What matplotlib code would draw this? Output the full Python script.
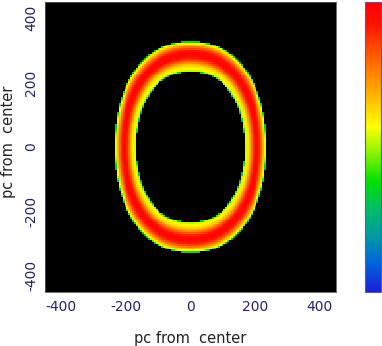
import numpy as np
import matplotlib
matplotlib.use("Agg")
import matplotlib.pyplot as plt
from matplotlib.colors import LinearSegmentedColormap

# ---- data ----
tick_values = [-400, -200, 0, 200, 400]
axis_limits = [-450, 450]
x_label = "pc from  center"
y_label = "pc from  center"

# ring centre-line semi-axes (pc) and superellipse exponent
ring_semi_x = 202.0
ring_semi_y = 283.0
ring_exponent = 2.2
# band in normalised radius
band_inner = 0.83
band_outer = 1.17
# colour-scale value across the band (0 = inner edge, 1 = outer edge)
profile_t = [0.00, 0.04, 0.12, 0.22, 0.32, 0.45, 0.55, 0.66, 0.78, 0.88, 0.95, 1.00]
profile_v = [0.22, 0.52, 0.58, 0.64, 0.78, 0.93, 0.98, 0.93, 0.80, 0.65, 0.55, 0.25]

# colour table sampled from the colour bar
cmap_pos = [0.00, 0.10, 0.20, 0.30, 0.38, 0.48, 0.57, 0.70, 0.82, 0.93, 1.00]
cmap_rgb = [(0.10, 0.12, 0.85), (0.00, 0.40, 0.85), (0.00, 0.62, 0.62),
            (0.00, 0.76, 0.35), (0.00, 0.88, 0.00), (0.55, 0.95, 0.00),
            (1.00, 1.00, 0.00), (1.00, 0.65, 0.00), (1.00, 0.35, 0.00),
            (1.00, 0.06, 0.00), (1.00, 0.00, 0.00)]

cmap = LinearSegmentedColormap.from_list("idl_rainbow", list(zip(cmap_pos, cmap_rgb)))
cmap.set_bad("black")

# ---- build the field ----
n = 150
coords = np.linspace(axis_limits[0], axis_limits[1], n)
X, Y = np.meshgrid(coords, coords)
r = (np.abs(X / ring_semi_x) ** ring_exponent + np.abs(Y / ring_semi_y) ** ring_exponent) ** (1.0 / ring_exponent)
t = (r - band_inner) / (band_outer - band_inner)
field = np.interp(t, profile_t, profile_v)
field = np.ma.masked_where((t < 0) | (t > 1), field)

# ---- figure ----
W, H = 382, 346
fig = plt.figure(figsize=(W / 100, H / 100), dpi=100)
ax = fig.add_axes([45 / W, 1 - 292 / H, 291 / W, 290 / H])
ax.set_facecolor("black")
im = ax.imshow(field, cmap=cmap, vmin=0, vmax=1, origin="lower",
               extent=[axis_limits[0], axis_limits[1], axis_limits[0], axis_limits[1]],
               interpolation="nearest", aspect="auto")
ax.set_xlim(axis_limits)
ax.set_ylim(axis_limits)
ax.set_xticks(tick_values)
ax.set_yticks(tick_values)
ax.set_xticklabels([str(v) for v in tick_values])
ax.set_yticklabels([str(v) for v in tick_values], rotation=90, va="center")
tick_col = "#23236e"
ax.tick_params(axis="both", length=0, labelsize=10, labelcolor=tick_col)
ax.tick_params(axis="x", pad=6)
ax.tick_params(axis="y", pad=5)
for s in ax.spines.values():
    s.set_color("#555555")
    s.set_linewidth(0.6)

fig.text(190 / W, 1 - 338 / H, x_label, fontsize=10.5, color="#222222",
         ha="center", va="center")
fig.text(9 / W, 1 - 142 / H, y_label, fontsize=10.5, color="#222222",
         ha="center", va="center", rotation=90)

cax = fig.add_axes([365 / W, 1 - 292 / H, 16 / W, 290 / H])
cb = fig.colorbar(im, cax=cax)
cb.set_ticks([])
cb.outline.set_edgecolor("#5a5aa0")
cb.outline.set_linewidth(0.8)

fig.savefig("out.png", dpi=100, facecolor="white")
